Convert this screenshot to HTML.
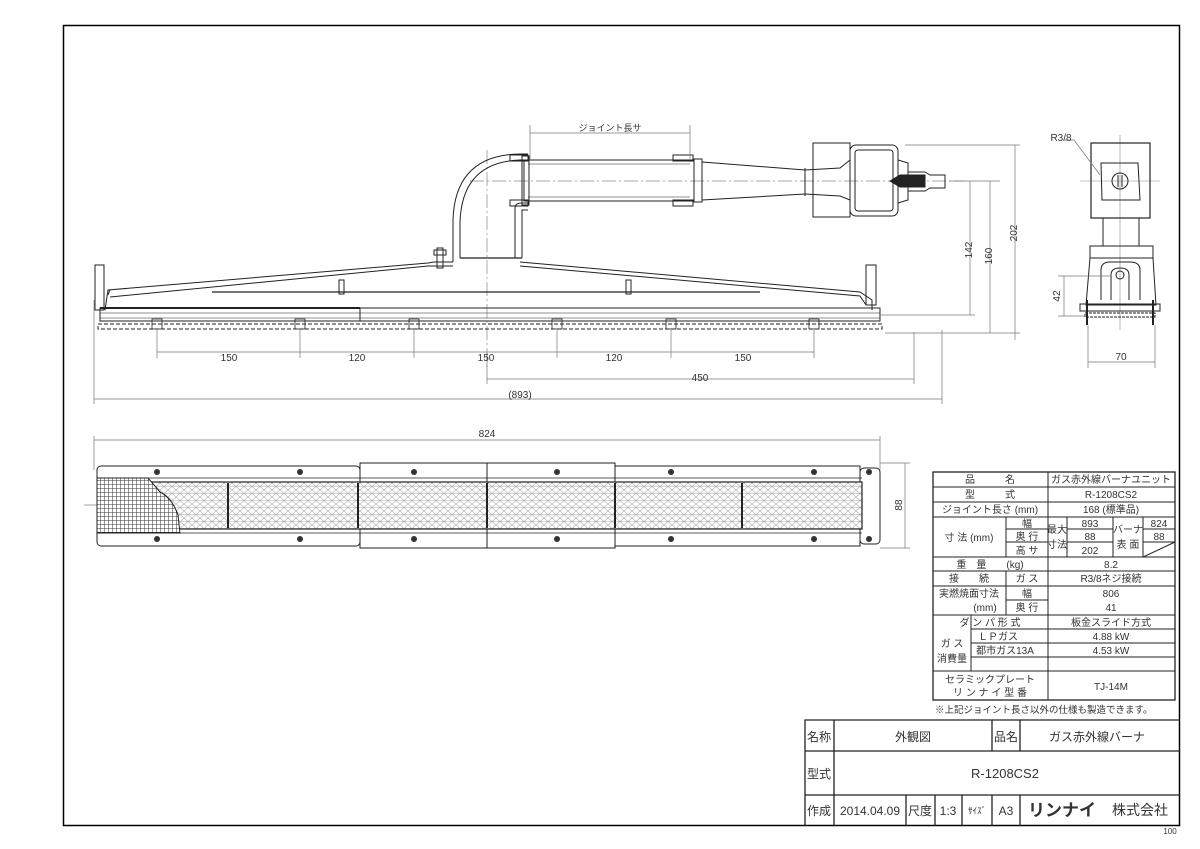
<!DOCTYPE html>
<html><head><meta charset="utf-8"><style>
html,body{margin:0;padding:0;background:#fff}
svg{display:block}
text{font-family:"Liberation Sans","Noto Sans CJK JP",sans-serif;fill:#333}
</style></head><body>
<svg width="1200" height="849" viewBox="0 0 1200 849" xmlns="http://www.w3.org/2000/svg">
<defs>
<pattern id="mesh" width="8" height="7" patternUnits="userSpaceOnUse">
<rect width="8" height="7" fill="#fff"/>
<path d="M0 0L8 7M8 0L0 7M0 3.5H8" stroke="#aaa" stroke-width="0.6"/>
</pattern>
<pattern id="grid" width="4" height="4" patternUnits="userSpaceOnUse">
<rect width="4" height="4" fill="#fff"/>
<path d="M0 0H4M0 0V4" stroke="#333" stroke-width="1"/>
</pattern>
</defs>
<g fill="none" stroke="#000">
<rect x="63.5" y="25.5" width="1116" height="800" stroke-width="1.5"/>
</g>
<text x="1170" y="834" font-size="8" text-anchor="middle" fill="#777">100</text>

<!-- SIDE VIEW -->
<g fill="none" stroke="#222" stroke-width="1">
<path d="M470 181H965" stroke="#888" stroke-dasharray="14 3 2 3" stroke-width="0.7"/>
<path d="M487 150V370" stroke="#888" stroke-dasharray="14 3 2 3" stroke-width="0.7"/>
<rect x="100" y="308" width="780" height="13"/>
<path d="M100 313H880M100 318H880"  stroke-width="0.6"/>
<path d="M360 308V321" />
<path d="M100 308H360" stroke-width="2"/>
<rect x="98" y="324" width="784" height="5" stroke-dasharray="4 2"/>
<path d="M105 310L108 290L428 263L434 262H453 M520 262L860 292L872 300L872 310"/>
<path d="M108 295L110 290M110 297L428 266H453M520 266L860 296L866 305"/>
<path d="M212 292H760" stroke-width="1.2"/>
<path d="M440 292H560" />
<rect x="95" y="265" width="9" height="45"/>
<rect x="866" y="265" width="10" height="40"/>
<path d="M453 262V220Q455 155 520 154H528"/>
<path d="M460 258V222Q462 162 520 160H528"/>
<path d="M515 258V208Q515 203 522 203H528"/>
<path d="M522 258V210H528"/>
<path d="M460 258H522" stroke-width="1.2"/>
<rect x="524" y="160" width="170" height="41"/>
<path d="M528 164H690M528 197H690" stroke-width="0.6"/>
<rect x="522" y="156" width="7" height="49"/>
<rect x="673" y="155" width="20" height="6"/><rect x="673" y="200" width="20" height="6"/>
<rect x="510" y="155" width="18" height="6"/><rect x="510" y="200" width="18" height="6"/>
<rect x="694" y="159" width="8" height="43"/>
<path d="M702 162L805 170M702 200L805 194M805 168V196"/>
<path d="M805 170L840 168L850 160V200L840 196L805 194"/>
<rect x="813" y="143" width="37" height="74"/>
<rect x="850" y="145" width="48" height="71" rx="6"/>
<rect x="855" y="150" width="38" height="61" rx="3"/>
<path d="M898 160L908 163V200L898 203"/>
<path d="M908 172H925L930 175H945V188H930L925 191H908"/>
<path d="M890 181L900 175H925V187H900Z" fill="#222"/>
<rect x="437" y="248" width="6" height="20"/><rect x="434" y="250" width="12" height="5"/>
<rect x="339" y="280" width="5" height="14"/>
<rect x="626" y="280" width="5" height="14"/>
<g stroke-width="0.8">
<rect x="152" y="319" width="10" height="10"/><rect x="295" y="319" width="10" height="10"/><rect x="409" y="319" width="10" height="10"/><rect x="552" y="319" width="10" height="10"/><rect x="666" y="319" width="10" height="10"/><rect x="809" y="319" width="10" height="10"/>
</g>
</g>
<g stroke="#777" stroke-width="0.7" fill="none">
<path d="M157 330V358M300 330V358M414 330V358M557 330V358M671 330V358M814 330V358"/>
<path d="M157 352H814"/>
<path d="M487 352V384M914 332V384M487 379H914"/>
<path d="M94 300V404M942 330V404M94 399H942"/>
<path d="M530 125V160M690 125V160M530 133H690"/>
<path d="M950 181H1000M905 145H1020M880 315H975M885 333H1020"/>
<path d="M970 181V315M990 181V333M1015 145V340"/>
</g>
<g font-size="10" text-anchor="middle" fill="#555">
<text x="229" y="361">150</text><text x="357" y="361">120</text><text x="486" y="361">150</text><text x="614" y="361">120</text><text x="743" y="361">150</text>
<text x="700" y="381">450</text><text x="520" y="398">(893)</text>
<text x="610" y="131" font-size="9">ジョイント長サ</text>
<text transform="translate(972,250) rotate(-90)">142</text>
<text transform="translate(992,256) rotate(-90)">160</text>
<text transform="translate(1017,233) rotate(-90)">202</text>
</g>

<!-- END VIEW -->
<g fill="none" stroke="#222" stroke-width="1">
<path d="M1120 135V330M1080 181H1160" stroke="#888" stroke-width="0.6"/>
<rect x="1091" y="143" width="59" height="75" stroke-width="1.2"/>
<path d="M1101 163H1138L1140 200H1102Z"/>
<circle cx="1120" cy="181" r="8"/><path d="M1118 175V187M1122 175V187"/>
<rect x="1103" y="218" width="36" height="28"/>
<rect x="1090" y="246" width="63" height="12"/>
<path d="M1090 258L1086 305H1156L1153 258"/>
<path d="M1101 300V270Q1101 262 1110 262H1130Q1140 262 1140 270V300"/>
<path d="M1111 300V275Q1111 268 1120 268Q1129 268 1129 275V300"/>
<circle cx="1120" cy="275" r="4"/>
<rect x="1080" y="304" width="80" height="7"/>
<rect x="1085" y="313" width="70" height="4" stroke-dasharray="3 1"/>
<path d="M1087 300V325M1153 300V325" stroke-width="2"/>
</g>
<g stroke="#777" stroke-width="0.7" fill="none">
<path d="M1064 140H1074L1100 175"/>
<path d="M1088 325V368M1155 325V368M1088 362H1155"/>
<path d="M1058 276H1110M1058 316H1085M1064 276V316"/>
</g>
<g font-size="10" text-anchor="middle" fill="#555">
<text x="1061" y="141">R3/8</text>
<text x="1121" y="360">70</text>
<text transform="translate(1060,296) rotate(-90)">42</text>
</g>

<!-- BOTTOM VIEW -->
<g stroke="#777" stroke-width="0.7" fill="none">
<path d="M94 436V470M880 436V470M94 440H880"/>
<path d="M880 463H910M880 548H910M905 463V548"/>
<path d="M84 505H100" />
</g>
<text x="487" y="437" font-size="10" text-anchor="middle" fill="#555">824</text>
<text transform="translate(902,505) rotate(-90)" font-size="10" text-anchor="middle" fill="#555">88</text>
<g fill="none" stroke="#222" stroke-width="1">
<rect x="97" y="466" width="263" height="80" rx="4"/>
<rect x="360" y="463" width="127" height="85"/>
<rect x="487" y="463" width="128" height="85"/>
<rect x="615" y="466" width="245" height="80"/>
<rect x="860" y="468" width="20" height="76" rx="4"/>
<rect x="100" y="482" width="762" height="47" fill="url(#mesh)" stroke-width="1.2"/>
<path d="M97 478V533H180L178 515Q172 498 160 492L148 478Z" fill="url(#grid)" stroke="#222"/>
<path d="M228 483V528M358 483V528M487 483V528M615 483V528M742 483V528" stroke-width="2"/>
<path d="M100 478H862M100 533H862" stroke-width="0.7"/>
</g>
<g fill="#333">
<circle cx="157" cy="472" r="3"/><circle cx="300" cy="472" r="3"/><circle cx="414" cy="472" r="3"/><circle cx="557" cy="472" r="3"/><circle cx="671" cy="472" r="3"/><circle cx="814" cy="472" r="3"/>
<circle cx="157" cy="539" r="3"/><circle cx="300" cy="539" r="3"/><circle cx="414" cy="539" r="3"/><circle cx="557" cy="539" r="3"/><circle cx="671" cy="539" r="3"/><circle cx="814" cy="539" r="3"/>
<circle cx="869" cy="472" r="3"/><circle cx="869" cy="539" r="3"/>
</g>

<!-- SPEC TABLE -->
<g fill="none" stroke="#222" stroke-width="1">
<rect x="933" y="472" width="242" height="228" stroke-width="1.3"/>
<path d="M1048 472V700"/>
<path d="M933 487H1175M933 502H1175M933 517H1175M1006 529H1048M1006 542H1048M933 557H1175M933 571H1175M933 586H1175M1006 600H1048M933 615H1175M971 629H1175M971 643H1175M971 657H1175M933 671H1175"/>
<path d="M1006 517V557M1006 571V615M971 615V671"/>
<path d="M1067 517V557M1113 517V557M1143 517V557M1067 529H1113M1067 542H1113M1143 529H1175M1143 542H1175M1143 557L1175 542"/>
</g>
<g font-size="10" text-anchor="middle">
<text x="990" y="483">品　　　名</text><text x="1111" y="483">ガス赤外線バーナユニット</text>
<text x="990" y="498">型　　　式</text><text x="1111" y="498">R-1208CS2</text>
<text x="990" y="513">ジョイント長さ (mm)</text><text x="1111" y="513">168 (標準品)</text>
<text x="969" y="541">寸 法 (mm)</text>
<text x="1027" y="527">幅</text><text x="1027" y="540">奥 行</text><text x="1027" y="554">高 サ</text>
<text x="1057" y="533">最大</text><text x="1057" y="548">寸法</text>
<text x="1090" y="527">893</text><text x="1090" y="540">88</text><text x="1090" y="554">202</text>
<text x="1128" y="533">バーナ</text><text x="1128" y="548">表 面</text>
<text x="1159" y="527">824</text><text x="1159" y="540">88</text>
<text x="990" y="568">重　量　　(kg)</text><text x="1111" y="568">8.2</text>
<text x="969" y="582">接　　続</text><text x="1027" y="582">ガ ス</text><text x="1111" y="582">R3/8ネジ接続</text>
<text x="969" y="597">実燃焼面寸法</text><text x="1027" y="597">幅</text><text x="1111" y="597">806</text>
<text x="985" y="611">(mm)</text><text x="1027" y="611">奥 行</text><text x="1111" y="611">41</text>
<text x="990" y="626">ダ ン パ 形 式</text><text x="1111" y="626">板金スライド方式</text>
<text x="952" y="647">ガ ス</text><text x="952" y="662">消費量</text>
<text x="998" y="640">ＬＰガス</text><text x="1005" y="654">都市ガス13A</text>
<text x="1111" y="640">4.88 kW</text><text x="1111" y="654">4.53 kW</text>
<text x="990" y="683">セラミックプレート</text><text x="990" y="696">リ ン ナ イ 型 番</text>
<text x="1111" y="690">TJ-14M</text>
</g>
<text x="935" y="713" font-size="9.5">※上記ジョイント長さ以外の仕様も製造できます。</text>

<!-- TITLE BLOCK -->
<g fill="none" stroke="#222" stroke-width="1.3">
<path d="M805 826V720H1180"/>
<path d="M805 751H1180M805 795H1180M834 720V826M992 720V751M1020 720V751M906 795V826M935 795V826M962 795V826M992 795V826M1020 795V826"/>
</g>
<g font-size="12" text-anchor="middle" fill="#222">
<text x="819" y="741">名称</text><text x="913" y="741">外観図</text><text x="1006" y="741">品名</text><text x="1097" y="741">ガス赤外線バーナ</text>
<text x="819" y="778">型式</text><text x="1005" y="778" font-size="13">R-1208CS2</text>
<text x="819" y="815">作成</text><text x="870" y="815">2014.04.09</text><text x="920" y="815">尺度</text><text x="948" y="815">1:3</text><text x="977" y="814" font-size="9">ｻｲｽﾞ</text><text x="1006" y="815">A3</text>
<text x="1062" y="816" font-size="17" font-weight="bold" fill="#000">リンナイ</text>
<text x="1140" y="815" font-size="14" fill="#000">株式会社</text>
</g>
</svg>
</body></html>
